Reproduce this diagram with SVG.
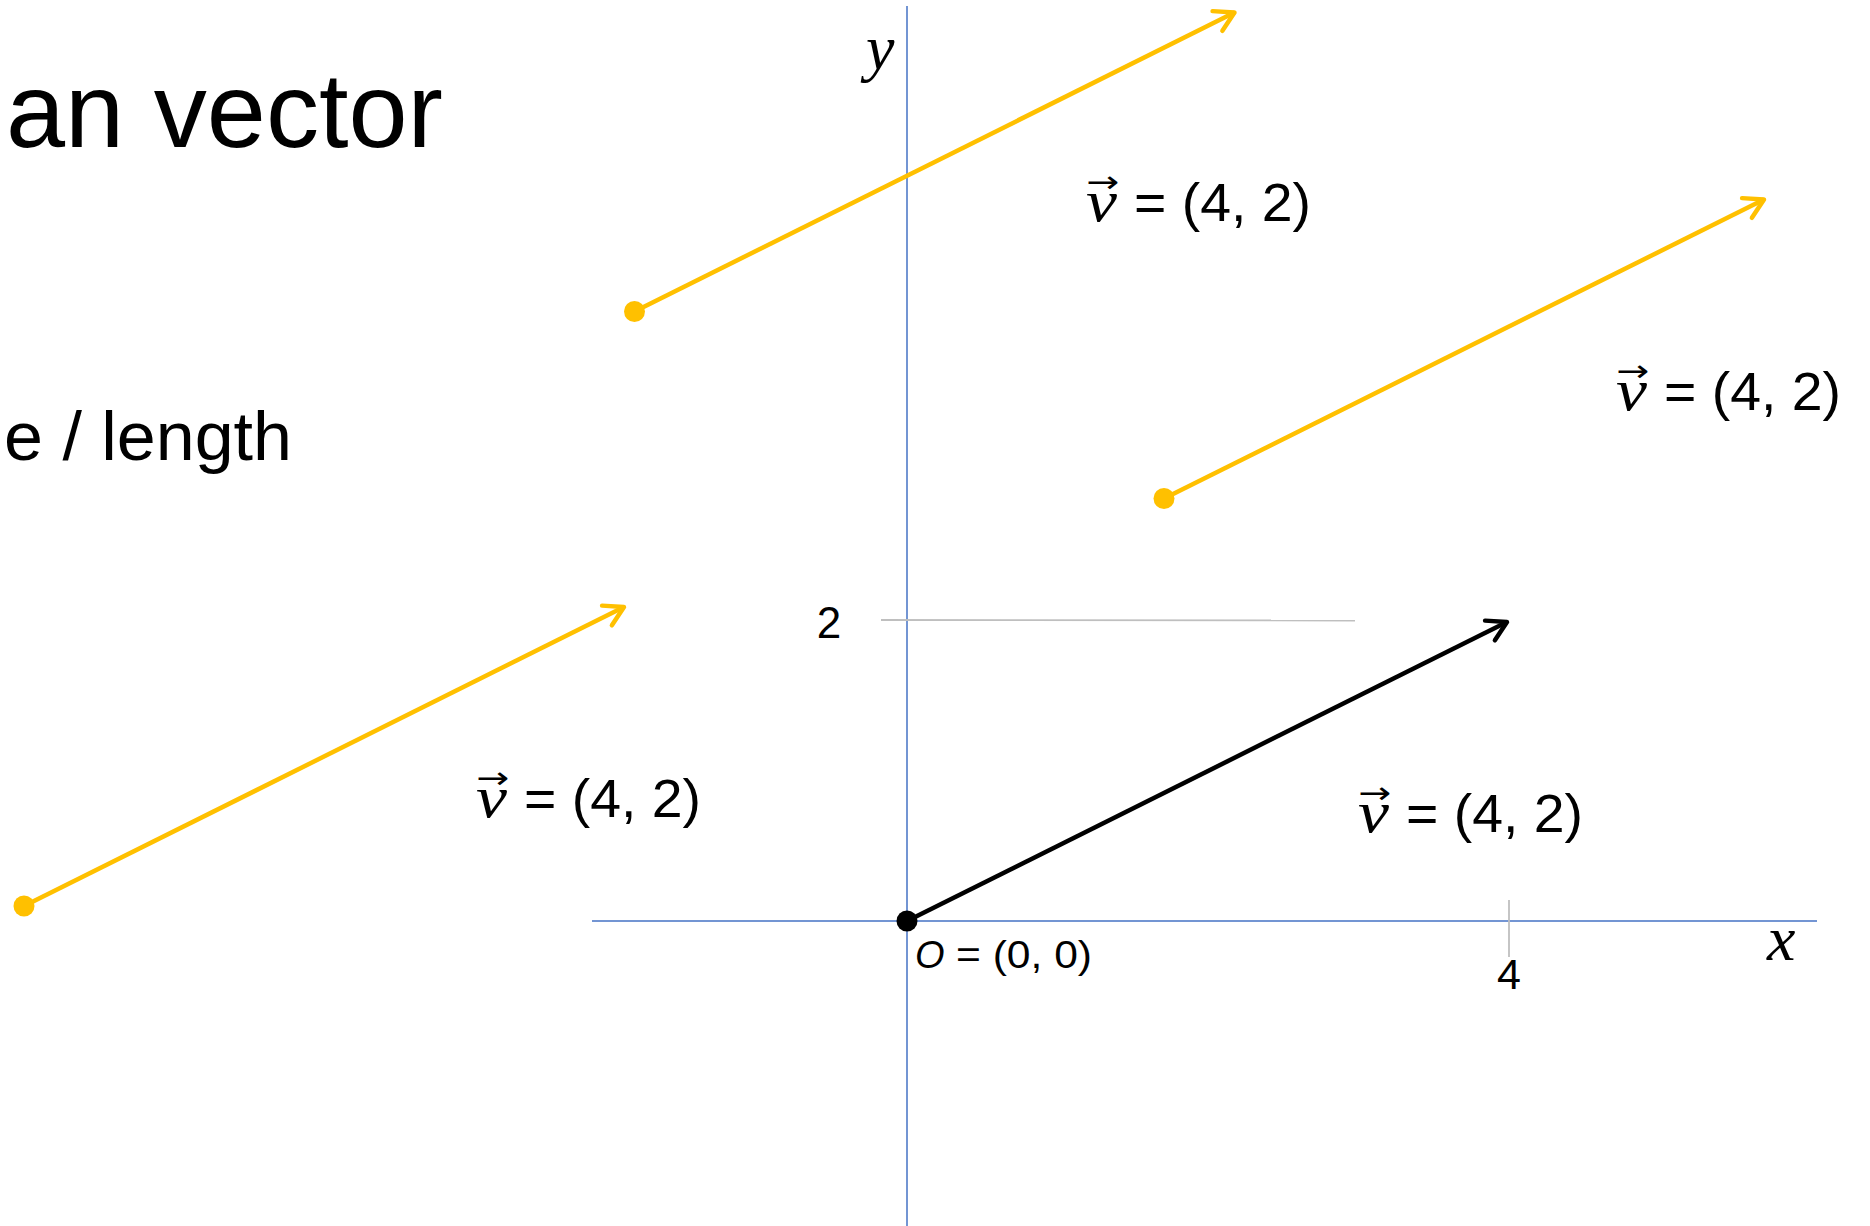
<svg xmlns="http://www.w3.org/2000/svg" width="1870" height="1226" viewBox="0 0 1870 1226">
<style>
.sans{font-family:"Liberation Sans","Open Sans",sans-serif;fill:#000}
.mi{font-family:"Liberation Serif","DejaVu Serif",serif;font-style:italic;fill:#000}
.ar{font-family:"DejaVu Sans",sans-serif;fill:#000}
.axis{stroke:#4472C4;stroke-width:1.5;fill:none}
.grid{stroke:#BFBFBF;stroke-width:1.8;fill:none}
.vy{stroke:#FFC000;stroke-width:4.5;fill:none;marker-end:url(#hy)}
.vb{stroke:#000;stroke-width:4.5;fill:none;marker-end:url(#hb)}
</style>
<defs>
<marker id="hy" markerUnits="userSpaceOnUse" markerWidth="40" markerHeight="40" viewBox="-30 -20 40 40" refX="0" refY="0" orient="auto" overflow="visible">
<path d="M-19,-11 L0,0 L-19,11" fill="none" stroke="#FFC000" stroke-width="4.5" stroke-linecap="round" stroke-linejoin="round"/>
</marker>
<marker id="hb" markerUnits="userSpaceOnUse" markerWidth="40" markerHeight="40" viewBox="-30 -20 40 40" refX="0" refY="0" orient="auto" overflow="visible">
<path d="M-19,-11 L0,0 L-19,11" fill="none" stroke="#000" stroke-width="4.5" stroke-linecap="round" stroke-linejoin="round"/>
</marker>
</defs>
<rect width="1870" height="1226" fill="#fff"/>

<g id="title">
<text class="sans" x="6" y="147" font-size="105" textLength="437" lengthAdjust="spacingAndGlyphs">an vector</text>
</g>
<g id="subtitle">
<text class="sans" x="4" y="460" font-size="69" textLength="288" lengthAdjust="spacingAndGlyphs">e / length</text>
</g>

<g id="axes">
<line class="axis" x1="907" y1="6" x2="907" y2="1226"/>
<line class="axis" x1="592" y1="921" x2="1817" y2="921"/>
<line class="grid" x1="881" y1="620" x2="1355" y2="620.5"/>
<line class="grid" x1="1509" y1="900" x2="1509" y2="957"/>
</g>

<g id="connectors">
<line class="vy" x1="634.5" y1="311.5" x2="1234.5" y2="12.5"/>
<line class="vy" x1="1164" y1="498.5" x2="1764" y2="199.5"/>
<line class="vy" x1="24" y1="906" x2="624" y2="607"/>
<line class="vb" x1="907" y1="921" x2="1507" y2="622"/>
</g>

<g id="dots">
<circle cx="634.5" cy="311.5" r="10.5" fill="#FFC000"/>
<circle cx="1164" cy="498.5" r="10.5" fill="#FFC000"/>
<circle cx="24" cy="906" r="10.5" fill="#FFC000"/>
<circle cx="907" cy="921" r="10.5" fill="#000"/>
</g>

<g id="axis-labels">
<text class="mi" x="866" y="69" font-size="64">y</text>
<text class="mi" x="1767" y="960" font-size="64">x</text>
<text class="sans" x="829" y="638" font-size="44" text-anchor="middle">2</text>
<text class="sans" x="1509" y="989" font-size="43" text-anchor="middle">4</text>
</g>

<g id="origin-label">
<text class="sans" x="915" y="968" font-size="38" font-style="italic">O</text>
<text class="sans" x="956" y="968" font-size="38" textLength="136" lengthAdjust="spacingAndGlyphs">= (0, 0)</text>
</g>

<g id="label-top">
<text class="mi" x="1086" y="221" font-size="60" textLength="31" lengthAdjust="spacingAndGlyphs">v</text>
<text class="ar" x="1086" y="192" font-size="30" textLength="33" lengthAdjust="spacingAndGlyphs">→</text>
<text class="sans" x="1134" y="221" font-size="54" textLength="177" lengthAdjust="spacingAndGlyphs">= (4, 2)</text>
</g>
<g id="label-right">
<text class="mi" x="1616" y="410" font-size="60" textLength="31" lengthAdjust="spacingAndGlyphs">v</text>
<text class="ar" x="1616" y="381" font-size="30" textLength="33" lengthAdjust="spacingAndGlyphs">→</text>
<text class="sans" x="1664" y="410" font-size="54" textLength="177" lengthAdjust="spacingAndGlyphs">= (4, 2)</text>
</g>
<g id="label-left">
<text class="mi" x="476" y="817" font-size="60" textLength="31" lengthAdjust="spacingAndGlyphs">v</text>
<text class="ar" x="476" y="788" font-size="30" textLength="33" lengthAdjust="spacingAndGlyphs">→</text>
<text class="sans" x="524" y="817" font-size="54" textLength="177" lengthAdjust="spacingAndGlyphs">= (4, 2)</text>
</g>
<g id="label-origin-vector">
<text class="mi" x="1358" y="832" font-size="60" textLength="31" lengthAdjust="spacingAndGlyphs">v</text>
<text class="ar" x="1358" y="803" font-size="30" textLength="33" lengthAdjust="spacingAndGlyphs">→</text>
<text class="sans" x="1406" y="832" font-size="54" textLength="177" lengthAdjust="spacingAndGlyphs">= (4, 2)</text>
</g>
</svg>
